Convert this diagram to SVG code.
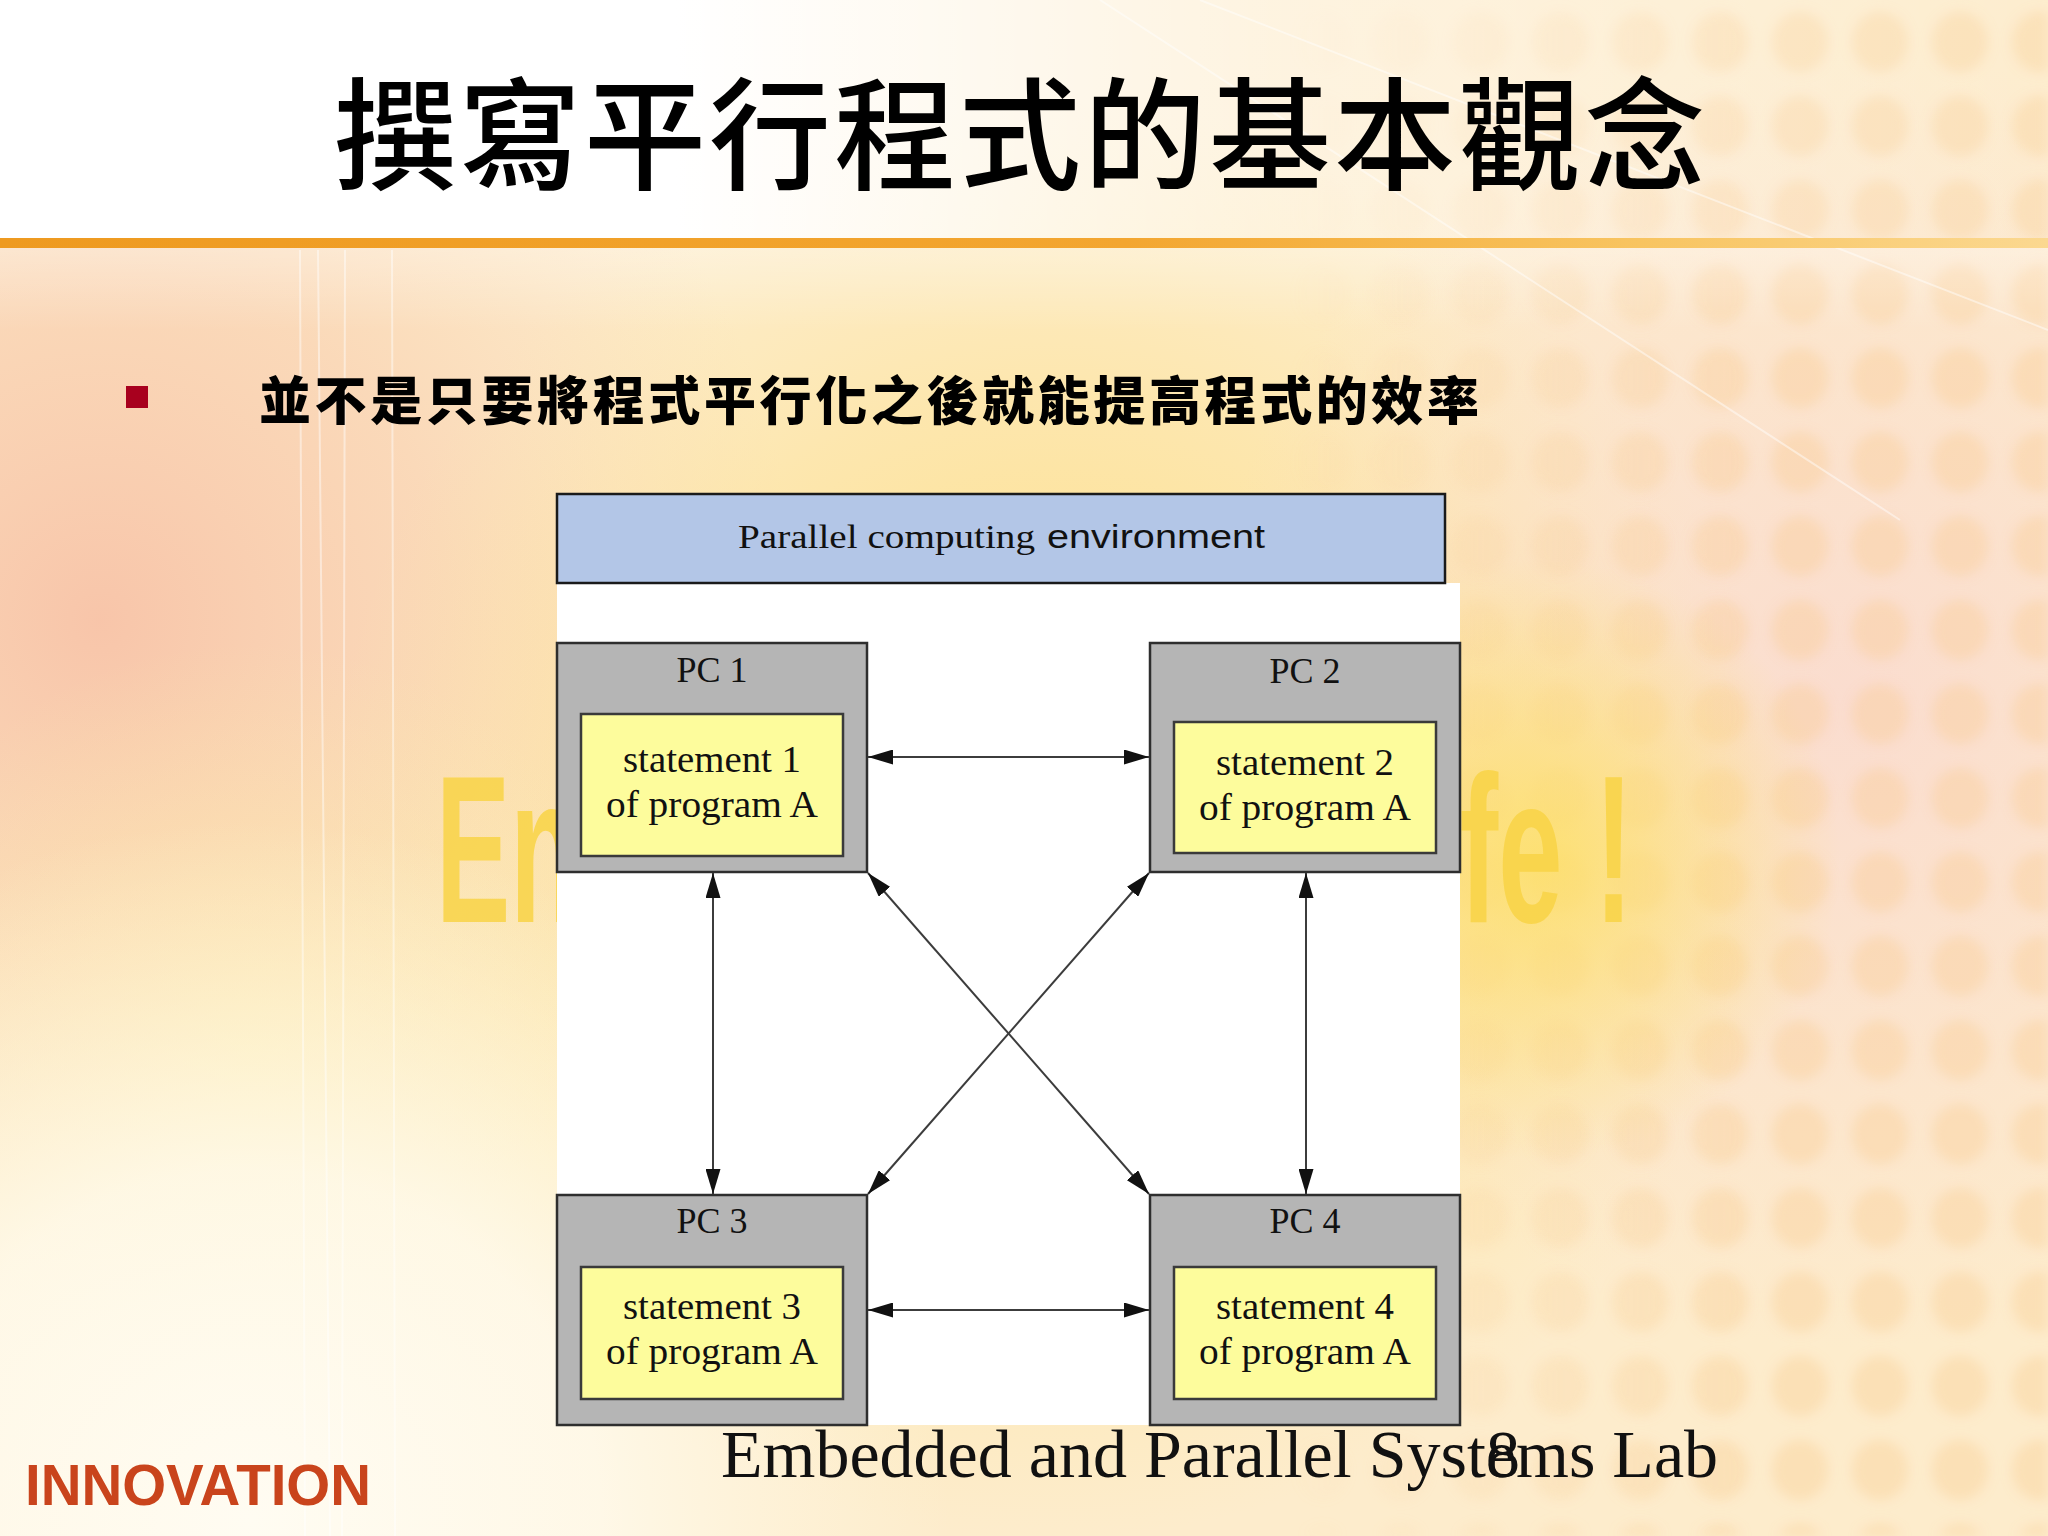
<svg xmlns="http://www.w3.org/2000/svg" width="2048" height="1536" viewBox="0 0 2048 1536">
<defs>
<style>
.serif{font-family:"Liberation Serif","Times New Roman",serif;fill:#111}
.pcbox{fill:#b5b5b5;stroke:#2e2e2e;stroke-width:2.5}
.stbox{fill:#fdfc9c;stroke:#3a3a3a;stroke-width:2.5}
.pclabel{font-size:36px;text-anchor:middle}
.st{font-size:37px;text-anchor:middle}
.conn{stroke:#3c3c3c;stroke-width:2;fill:none;marker-start:url(#arr);marker-end:url(#arr)}
.cjk{font-family:"Noto Sans CJK TC","Noto Sans CJK SC",sans-serif;fill:#000}
.enjoy{font-family:"Liberation Sans",Arial,sans-serif;font-weight:bold;font-size:210px;fill:#f9d446;opacity:0.85}
</style>
<marker id="arr" viewBox="0 0 25 15" refX="25" refY="7.5" markerWidth="25" markerHeight="15" markerUnits="userSpaceOnUse" orient="auto-start-reverse">
<path d="M0,0 L25,7.5 L0,15 Z" fill="#111"/>
</marker>
<radialGradient id="peach" cx="100" cy="620" r="700" gradientUnits="userSpaceOnUse">
<stop offset="0" stop-color="#f6b89e" stop-opacity="0.75"/>
<stop offset="0.5" stop-color="#f8c6a6" stop-opacity="0.5"/>
<stop offset="1" stop-color="#f9d0a8" stop-opacity="0"/>
</radialGradient>
<radialGradient id="yel" cx="1050" cy="820" r="720" gradientUnits="userSpaceOnUse">
<stop offset="0" stop-color="#fcd868" stop-opacity="0.85"/>
<stop offset="0.6" stop-color="#fde08a" stop-opacity="0.45"/>
<stop offset="1" stop-color="#fde8a0" stop-opacity="0"/>
</radialGradient>
<radialGradient id="yel2" cx="1540" cy="860" r="300" gradientUnits="userSpaceOnUse">
<stop offset="0" stop-color="#fde060" stop-opacity="0.8"/>
<stop offset="1" stop-color="#fde060" stop-opacity="0"/>
</radialGradient>
<radialGradient id="yel3" cx="250" cy="1060" r="420" gradientUnits="userSpaceOnUse">
<stop offset="0" stop-color="#fdf0a8" stop-opacity="0.6"/>
<stop offset="1" stop-color="#fdf0a8" stop-opacity="0"/>
</radialGradient>
<radialGradient id="cream" cx="250" cy="1520" r="700" gradientUnits="userSpaceOnUse">
<stop offset="0" stop-color="#fffcf2" stop-opacity="1"/>
<stop offset="0.5" stop-color="#fffbee" stop-opacity="0.8"/>
<stop offset="1" stop-color="#fff8e0" stop-opacity="0"/>
</radialGradient>
<radialGradient id="pink" cx="1850" cy="700" r="650" gradientUnits="userSpaceOnUse">
<stop offset="0" stop-color="#f8cdd2" stop-opacity="0.5"/>
<stop offset="1" stop-color="#f8cdd2" stop-opacity="0"/>
</radialGradient>
<linearGradient id="topwhite" x1="0" y1="0" x2="2048" y2="0" gradientUnits="userSpaceOnUse">
<stop offset="0" stop-color="#ffffff" stop-opacity="1"/>
<stop offset="0.33" stop-color="#ffffff" stop-opacity="1"/>
<stop offset="0.62" stop-color="#ffffff" stop-opacity="0.4"/>
<stop offset="1" stop-color="#ffffff" stop-opacity="0.05"/>
</linearGradient>
<linearGradient id="topfade" x1="0" y1="240" x2="0" y2="330" gradientUnits="userSpaceOnUse">
<stop offset="0" stop-color="#ffffff" stop-opacity="0.35"/>
<stop offset="1" stop-color="#ffffff" stop-opacity="0"/>
</linearGradient>
<linearGradient id="orange" x1="0" y1="0" x2="2048" y2="0" gradientUnits="userSpaceOnUse">
<stop offset="0" stop-color="#ee9a20"/>
<stop offset="0.55" stop-color="#f3a630"/>
<stop offset="0.8" stop-color="#f8c460"/>
<stop offset="1" stop-color="#fbd890"/>
</linearGradient>
<pattern id="dots" x="0" y="0" width="80" height="84" patternUnits="userSpaceOnUse">
<ellipse cx="40" cy="42" rx="28" ry="30" fill="#fbc888" fill-opacity="0.32"/>
</pattern>
<linearGradient id="dotfade" x1="1280" y1="0" x2="1750" y2="0" gradientUnits="userSpaceOnUse">
<stop offset="0" stop-color="#fff" stop-opacity="0"/>
<stop offset="1" stop-color="#fff" stop-opacity="1"/>
</linearGradient>
<mask id="dotmask" maskUnits="userSpaceOnUse" x="0" y="0" width="2048" height="1536">
<rect x="0" y="0" width="2048" height="1536" fill="url(#dotfade)"/>
</mask>
<filter id="soft" x="0" y="0" width="1" height="1">
<feGaussianBlur stdDeviation="6"/>
</filter>
</defs>

<g id="background">
<rect x="0" y="0" width="2048" height="1536" fill="#fdeccc"/>
<rect x="0" y="0" width="2048" height="1536" fill="url(#peach)"/>
<rect x="0" y="0" width="2048" height="1536" fill="url(#yel)"/>
<rect x="0" y="0" width="2048" height="1536" fill="url(#pink)"/>
<rect x="0" y="0" width="2048" height="1536" fill="url(#yel3)"/>
<g mask="url(#dotmask)">
<rect x="0" y="0" width="2048" height="1536" fill="url(#dots)" filter="url(#soft)"/>
</g>
<rect x="0" y="0" width="2048" height="1536" fill="url(#yel2)"/>
<rect x="0" y="0" width="2048" height="1536" fill="url(#cream)"/>
<rect x="0" y="0" width="2048" height="238" fill="url(#topwhite)"/>
<rect x="0" y="240" width="2048" height="90" fill="url(#topfade)"/>
<g stroke="#ffffff" stroke-opacity="0.45" stroke-width="2" fill="none">
<line x1="300" y1="250" x2="305" y2="1536"/>
<line x1="318" y1="250" x2="330" y2="1536"/>
<line x1="345" y1="250" x2="342" y2="1536"/>
<line x1="392" y1="250" x2="395" y2="1536"/>
<line x1="1100" y1="0" x2="1900" y2="520"/>
<line x1="1200" y1="0" x2="2048" y2="330"/>
</g>
<rect x="0" y="238" width="2048" height="10" fill="url(#orange)"/>
<text class="enjoy" transform="translate(436,922) scale(0.53,1)" x="0" y="0">En</text>
<text class="enjoy" transform="translate(1633,922) scale(0.55,1)" x="0" y="0" text-anchor="end">fe !</text>
</g>

<g id="title">
<text class="cjk" x="334" y="180" font-size="122" font-weight="500" textLength="1372" lengthAdjust="spacing">撰寫平行程式的基本觀念</text>
</g>

<g id="bullet-text">
<rect x="126" y="386" width="22" height="22" fill="#a8001e"/>
<text class="cjk" x="259" y="420" font-size="52" font-weight="900" textLength="1220" lengthAdjust="spacing">並不是只要將程式平行化之後就能提高程式的效率</text>
</g>

<rect id="diagram-backdrop" x="557" y="583" width="903" height="842" fill="#ffffff"/>

<g id="env">
<rect x="557" y="494" width="888" height="89" fill="#b3c6e7" stroke="#1a1a1a" stroke-width="2.5"/>
<text class="serif" x="738" y="548" font-size="34" textLength="297" lengthAdjust="spacingAndGlyphs">Parallel computing</text>
<text x="1047" y="548" font-size="33" font-family="Liberation Sans, Arial, sans-serif" fill="#111" textLength="218" lengthAdjust="spacingAndGlyphs">environment</text>
</g>

<g id="pc1">
<rect class="pcbox" x="557" y="643" width="310" height="229"/>
<text class="serif pclabel" x="712" y="682">PC 1</text>
<rect class="stbox" x="581" y="714" width="262" height="142"/>
<text class="serif st" x="712" y="772" textLength="178" lengthAdjust="spacingAndGlyphs">statement 1</text>
<text class="serif st" x="712" y="817" textLength="212" lengthAdjust="spacingAndGlyphs">of program A</text>
</g>

<g id="pc2">
<rect class="pcbox" x="1150" y="643" width="310" height="229"/>
<text class="serif pclabel" x="1305" y="683">PC 2</text>
<rect class="stbox" x="1174" y="722" width="262" height="131"/>
<text class="serif st" x="1305" y="775" textLength="178" lengthAdjust="spacingAndGlyphs">statement 2</text>
<text class="serif st" x="1305" y="820" textLength="212" lengthAdjust="spacingAndGlyphs">of program A</text>
</g>

<g id="pc3">
<rect class="pcbox" x="557" y="1195" width="310" height="230"/>
<text class="serif pclabel" x="712" y="1233">PC 3</text>
<rect class="stbox" x="581" y="1267" width="262" height="132"/>
<text class="serif st" x="712" y="1319" textLength="178" lengthAdjust="spacingAndGlyphs">statement 3</text>
<text class="serif st" x="712" y="1364" textLength="212" lengthAdjust="spacingAndGlyphs">of program A</text>
</g>

<g id="pc4">
<rect class="pcbox" x="1150" y="1195" width="310" height="230"/>
<text class="serif pclabel" x="1305" y="1233">PC 4</text>
<rect class="stbox" x="1174" y="1267" width="262" height="132"/>
<text class="serif st" x="1305" y="1319" textLength="178" lengthAdjust="spacingAndGlyphs">statement 4</text>
<text class="serif st" x="1305" y="1364" textLength="212" lengthAdjust="spacingAndGlyphs">of program A</text>
</g>

<g id="connectors">
<line class="conn" x1="868" y1="757" x2="1149" y2="757"/>
<line class="conn" x1="868" y1="1310" x2="1149" y2="1310"/>
<line class="conn" x1="713" y1="873" x2="713" y2="1194"/>
<line class="conn" x1="1306" y1="873" x2="1306" y2="1194"/>
<line class="conn" x1="868" y1="873" x2="1149" y2="1194"/>
<line class="conn" x1="1149" y1="873" x2="868" y2="1194"/>
</g>

<g id="footer">
<text x="25" y="1505" font-family="Liberation Sans, Arial, sans-serif" font-weight="bold" font-size="58" fill="#c9441c" textLength="346" lengthAdjust="spacingAndGlyphs">INNOVATION</text>
<text class="serif" x="721" y="1477" font-size="68">Embedded and Parallel Systems Lab</text>
<text class="serif" x="1503" y="1477" font-size="68" text-anchor="middle">8</text>
</g>
</svg>
